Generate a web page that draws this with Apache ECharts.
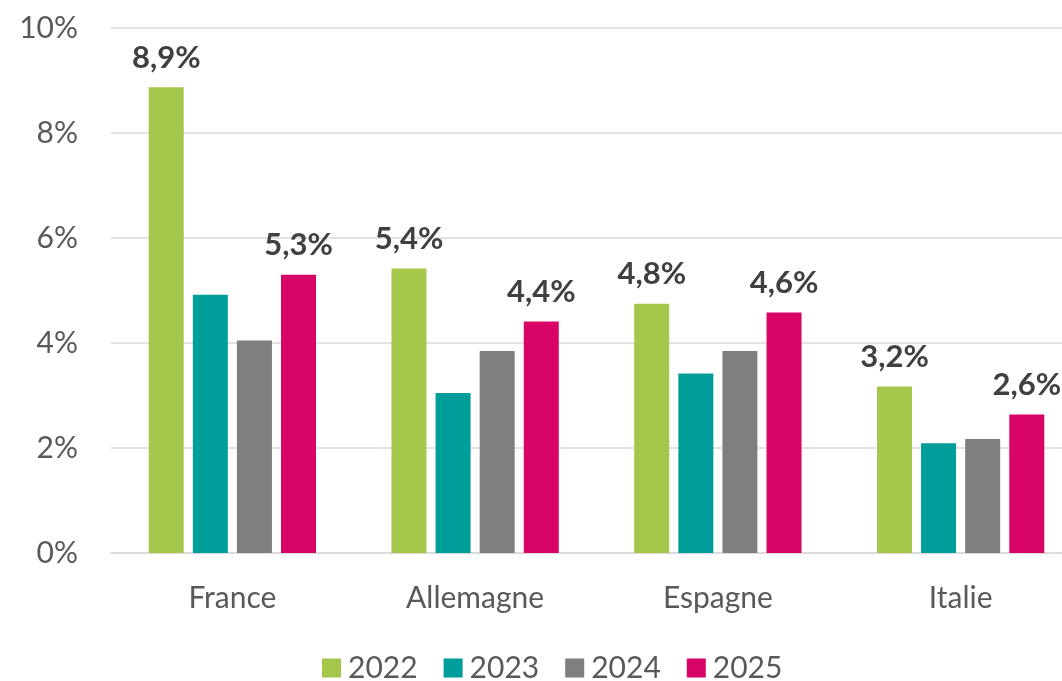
<!DOCTYPE html>
<html>
<head>
<meta charset="utf-8">
<script src="https://cdn.jsdelivr.net/npm/echarts@6/dist/echarts.min.js"></script>
<style>html,body{margin:0;padding:0;background:#fff;overflow:hidden;}#c{width:1100px;height:681px;}</style>
</head>
<body>
<div id="c"></div>
<script>
const categories = ['France', 'Allemagne', 'Espagne', 'Italie'];
const years = ['2022', '2023', '2024', '2025'];
const v2022 = [8.87, 5.42, 4.75, 3.17];
const v2023 = [4.92, 3.05, 3.42, 2.09];
const v2024 = [4.05, 3.85, 3.85, 2.17];
const v2025 = [5.30, 4.41, 4.58, 2.64];
const yTicks = [0, 2, 4, 6, 8, 10];
const colors = ['#A5C74C', '#009E9A', '#7F7F7F', '#D80566'];
const labeled = [true, false, false, true];

const font = 'Lato, "Open Sans", sans-serif';
const seriesData = [v2022, v2023, v2024, v2025];

const chart = echarts.init(document.getElementById('c'), null, {renderer: 'canvas'});
chart.setOption({
  animation: false,
  grid: {left: 111, top: 28, width: 971, height: 525, containLabel: false},
  legend: {
    top: 648,
    left: 317,
    padding: 5,
    itemWidth: 19,
    itemHeight: 19,
    itemGap: 26,
    icon: 'rect',
    textStyle: {fontFamily: font, fontSize: 30, lineHeight: 30, color: '#595959', padding: [0, 0, 0, 2]},
    data: years
  },
  xAxis: {
    type: 'category',
    data: categories,
    axisLine: {lineStyle: {color: '#D9D9D9', width: 1.5}},
    axisTick: {show: false},
    axisLabel: {fontFamily: font, fontSize: 30, color: '#595959', margin: 30}
  },
  yAxis: {
    type: 'value',
    min: yTicks[0],
    max: yTicks[yTicks.length - 1],
    interval: 2,
    axisLine: {show: false},
    axisTick: {show: false},
    splitLine: {lineStyle: {color: '#D9D9D9', width: 1.5}},
    axisLabel: {fontFamily: font, fontSize: 30, color: '#595959', margin: 33,
      formatter: v => v + '%'}
  },
  series: years.map((y, i) => ({
    name: y,
    type: 'bar',
    data: seriesData[i],
    barWidth: 35,
    barGap: '26%',
    itemStyle: {color: colors[i]},
    label: {
      show: labeled[i],
      position: 'top',
      distance: 14,
      fontFamily: font,
      fontSize: 31,
      fontWeight: 'bold',
      color: '#404040',
      formatter: p => p.value.toFixed(1).replace('.', ',') + '%'
    }
  }))
});
</script>
</body>
</html>
